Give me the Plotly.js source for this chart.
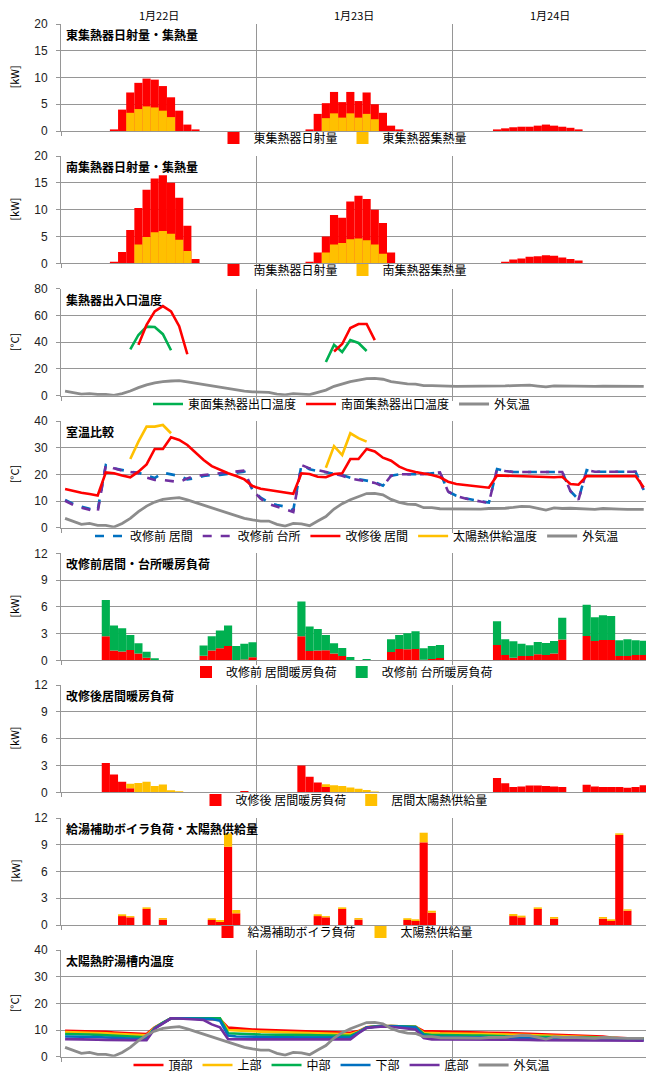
<!DOCTYPE html>
<html><head><meta charset="utf-8">
<script src="https://cdn.plot.ly/plotly-3.0.1.min.js"></script>
<style>body{margin:0;background:#fff}#chart{width:646px;height:1072px}</style>
</head><body><div id="chart"></div>
<script>
const _ = null;
// hour slots (centre of each hour over 3 days)
const hours = [];
for (let i = 0; i < 72; i++) hours.push(i + 0.5);
const dateLabels = ["1月22日", "1月23日", "1月24日"];
const dateHours = [12, 36, 60];

// Panel 1: east collector
const eastIrr = [_,_,_,_,_,_,0.3,4.0,7.2,9.0,9.8,9.6,8.4,6.3,3.8,1.2,0.3,_,_,_,_,_,_,_,
  _,_,_,_,_,_,0.3,3.2,5.2,7.3,5.4,7.3,5.6,7.2,5.0,3.4,1.0,0.3,_,_,_,_,_,_,
  _,_,_,_,_,0.3,0.5,0.7,0.8,0.8,1.0,1.2,1.0,0.8,0.6,0.3,_,_,_,_,_,_,_,_];
const eastCol = [_,_,_,_,_,_,_,_,3.4,4.1,4.6,4.4,3.8,2.6,_,_,_,_,_,_,_,_,_,_,
  _,_,_,_,_,_,_,_,2.4,3.3,2.5,3.3,2.5,3.2,2.2,_,_,_,_,_,_,_,_,_,
  _,_,_,_,_,_,_,_,_,_,_,_,_,_,_,_,_,_,_,_,_,_,_,_];
// Panel 2: south collector
const southIrr = [_,_,_,_,_,_,0.3,2.1,6.2,10.3,13.7,15.8,16.4,15.0,12.2,7.0,0.8,_,_,_,_,_,_,_,
  _,_,_,_,_,_,0.3,2.0,5.0,9.0,8.5,11.5,12.6,12.0,10.0,7.5,2.0,_,_,_,_,_,_,_,
  _,_,_,_,_,_,0.3,0.7,0.9,1.2,1.3,1.5,1.4,1.1,0.8,0.5,_,_,_,_,_,_,_,_];
const southCol = [_,_,_,_,_,_,_,_,_,3.5,4.9,5.8,6.0,5.5,4.4,2.3,_,_,_,_,_,_,_,_,
  _,_,_,_,_,_,_,_,2.0,3.5,3.8,4.5,4.6,4.3,3.5,1.8,_,_,_,_,_,_,_,_,
  _,_,_,_,_,_,_,_,_,_,_,_,_,_,_,_,_,_,_,_,_,_,_,_];
// Outdoor temperature
const outdoor = [3.5,2.5,1.25,1.6,0.9,0.9,0.25,1.6,3.5,6.0,8.1,9.6,10.6,11.0,11.25,10.4,9.4,8.4,7.5,6.4,5.25,4.25,3.5,2.9,
  2.5,2.5,1.25,0.6,1.6,1.4,0.75,2.5,4.2,7.0,9.0,10.5,11.6,12.8,12.9,12.3,10.6,9.5,8.8,8.7,7.5,7.5,7.1,7.1,
  7.0,7.0,6.9,7.0,7.2,7.2,7.3,7.6,8.0,7.9,7.2,6.6,7.4,7.2,7.3,7.2,7.0,6.9,7.2,7.2,7.0,6.9,6.9,6.9];
// Panel 3: collector outlet temps
const eastOut = [_,_,_,_,_,_,_,_,34.7,45.4,51.6,51.4,46.0,34.0,_,_,_,_,_,_,_,_,_,_,
  _,_,_,_,_,_,_,_,25.2,38.0,32.7,41.6,39.4,33.4,_,_,_,_,_,_,_,_,_,_,
  _,_,_,_,_,_,_,_,_,_,_,_,_,_,_,_,_,_,_,_,_,_,_,_];
const southOut = [_,_,_,_,_,_,_,_,_,38.0,53.0,63.0,67.0,63.0,52.0,31.0,_,_,_,_,_,_,_,_,
  _,_,_,_,_,_,_,_,_,33.0,38.6,50.6,53.6,53.6,41.6,_,_,_,_,_,_,_,_,_,
  _,_,_,_,_,_,_,_,_,_,_,_,_,_,_,_,_,_,_,_,_,_,_,_];
// Panel 4: room temperatures
const beforeLiving = [10.4,8.9,7.9,7.1,6.6,23.5,22.25,21.5,21.0,20.6,19.6,18.6,20.6,20.1,19.4,18.1,18.6,19.4,19.75,19.75,20.1,20.6,21.0,14.1,
  11.25,9.4,8.5,7.9,6.6,23.5,21.9,21.25,20.75,20.4,19.75,18.75,18.25,17.6,17.1,15.75,19.5,20.0,20.0,20.1,20.1,20.4,20.75,13.5,
  12.0,11.1,10.4,9.9,9.4,22.0,21.25,20.9,20.9,20.9,20.9,20.9,20.9,20.9,13.75,10.6,21.6,21.0,21.0,21.0,21.0,21.0,21.0,14.1];
const beforeKitchen = [10.1,8.5,7.5,6.6,5.9,23.5,22.25,21.4,20.9,20.4,18.75,17.9,17.9,17.5,17.1,18.5,19.4,19.75,20.1,20.4,20.6,20.9,21.4,14.1,
  10.9,8.9,7.9,7.0,5.9,23.5,22.25,21.6,21.0,20.2,19.5,18.4,17.9,17.3,16.8,15.5,19.5,20.0,20.0,20.1,20.1,20.4,20.75,13.5,
  11.9,11.0,10.3,9.8,9.3,22.0,21.25,20.9,20.9,20.9,20.9,20.9,20.9,20.9,13.75,10.5,21.6,21.0,21.0,21.0,21.0,21.0,21.0,14.1];
const afterLiving = [14.5,13.75,13.1,12.6,12.1,20.75,20.4,19.6,18.9,21.0,23.75,29.5,29.5,33.9,32.9,31.0,28.25,25.4,23.1,21.6,20.4,19.4,18.1,15.6,
  14.6,14.1,13.6,13.1,12.75,20.4,20.1,19.1,18.9,20.1,20.4,25.75,25.75,29.5,28.6,26.25,25.1,22.9,21.6,20.9,20.4,19.75,18.9,17.25,
  16.4,16.0,15.75,15.4,15.0,19.6,19.5,19.4,19.3,19.3,19.3,19.2,18.9,19.1,16.4,16.1,19.4,19.3,19.3,19.3,19.3,19.3,19.4,15.1];
const solarSupplyTemp = [_,_,_,_,_,_,_,_,25.75,32.25,37.9,37.9,38.5,35.4,_,_,_,_,_,_,_,_,_,_,
  _,_,_,_,_,_,_,_,22.5,30.6,27.25,35.4,33.6,32.25,_,_,_,_,_,_,_,_,_,_,
  _,_,_,_,_,_,_,_,_,_,_,_,_,_,_,_,_,_,_,_,_,_,_,_];
// Panel 5: heating load before renovation
const loadBeforeLiving = [_,_,_,_,_,2.7,1.1,1.0,1.15,0.75,0.3,_,_,_,_,_,_,0.5,1.1,1.35,1.6,_,0.1,0.35,
  _,_,_,_,_,2.7,1.05,1.1,1.12,0.75,0.49,_,_,_,_,_,0.93,1.27,1.23,1.27,0.07,0.15,0.26,_,
  _,_,_,_,_,1.72,0.6,0.3,0.49,0.49,0.67,0.6,0.75,2.32,_,_,2.73,2.17,2.28,2.28,0.49,0.49,0.6,0.6];
const loadBeforeKitchen = [_,_,_,_,_,4.05,2.8,2.6,1.7,1.15,0.65,0.22,_,_,_,_,_,1.15,1.6,2.0,2.3,1.6,1.77,1.68,
  _,_,_,_,_,3.9,2.73,2.4,1.72,1.15,0.89,0.37,_,0.15,_,_,1.42,1.57,1.8,1.98,1.28,1.45,1.46,_,
  _,_,_,_,_,2.65,1.75,1.83,1.38,1.19,1.38,1.34,1.42,2.46,_,_,3.51,2.65,2.77,2.69,1.75,1.86,1.64,1.6];
// Panel 6: heating load after renovation
const loadAfterLiving = [_,_,_,_,_,3.28,1.98,1.19,0.45,_,_,_,_,_,_,_,_,_,_,_,_,_,0.15,_,
  _,_,_,_,_,3.0,1.75,1.1,0.6,_,_,_,_,_,_,_,_,_,_,_,_,_,_,_,
  _,_,_,_,_,1.6,1.0,0.6,0.65,0.75,0.75,0.7,0.65,0.6,_,_,0.85,0.65,0.6,0.6,0.6,0.5,0.6,0.8];
const livingSolar = [_,_,_,_,_,_,_,_,0.52,1.04,1.19,0.71,0.86,0.22,0.11,0.04,_,_,_,_,_,_,_,_,
  _,_,_,_,_,_,_,_,0.3,0.8,0.7,0.55,0.4,0.25,0.1,_,_,_,_,_,_,_,_,_,
  _,_,_,_,_,_,_,_,_,_,_,_,_,_,_,_,_,_,_,_,_,_,_,_];
// Panel 7: hot water boiler load and solar supply
const boilerLoad = [_,_,_,_,_,_,_,1.0,0.86,_,1.8,_,0.6,_,_,_,_,_,0.56,0.34,8.78,1.31,_,_,
  _,_,_,_,_,_,_,1.0,0.86,_,1.8,_,0.6,_,_,_,_,_,0.56,0.45,9.27,1.38,_,_,
  _,_,_,_,_,_,_,1.0,0.86,_,1.8,_,0.71,_,_,_,_,_,0.71,0.45,10.1,1.6,_,_];
const hwSolar = [_,_,_,_,_,_,_,0.2,0.14,_,0.18,_,0.18,_,_,_,_,_,0.19,0.22,1.5,0.37,_,_,
  _,_,_,_,_,_,_,0.2,0.14,_,0.18,_,0.18,_,_,_,_,_,0.2,0.19,1.08,0.22,_,_,
  _,_,_,_,_,_,_,0.23,0.19,_,0.18,_,0.19,_,_,_,_,_,0.19,0.19,0.18,0.16,_,_];
// Panel 8: storage tank temperatures
const tankTop = [9.75,9.7,9.6,9.5,9.4,9.3,9.1,8.9,8.7,8.6,8.5,11.0,12.8,14.4,14.4,14.3,14.2,14.1,14.0,14.0,10.9,10.6,10.4,10.2,
  10.1,10.0,9.9,9.8,9.7,9.6,9.5,9.4,9.2,9.1,9.1,9.0,9.6,11.0,11.3,11.5,11.5,11.4,11.3,11.2,9.6,9.4,9.4,9.3,
  9.3,9.2,9.2,9.1,9.0,9.0,8.9,8.8,8.7,8.6,8.3,8.2,8.1,8.0,8.0,7.9,7.8,7.7,7.6,7.2,7.0,6.9,6.9,6.9];
const tankUpper = [9.25,9.2,9.1,9.0,8.9,8.8,8.6,8.4,8.2,8.1,8.0,10.9,12.8,14.4,14.4,14.4,14.3,14.3,14.3,14.3,10.0,9.8,9.6,9.5,
  9.4,9.3,9.2,9.1,9.0,8.9,8.8,8.75,8.6,8.5,8.5,8.4,9.4,11.0,11.3,11.5,11.5,11.4,11.3,11.2,9.0,8.75,8.75,8.7,
  8.7,8.6,8.6,8.5,8.5,8.4,8.4,8.3,8.2,8.1,8.0,7.9,7.8,7.8,7.7,7.6,7.5,7.5,7.4,7.1,6.9,6.8,6.8,6.8];
const tankMiddle = [8.5,8.5,8.4,8.3,8.2,8.0,7.8,7.6,7.4,7.3,7.25,10.8,12.8,14.4,14.4,14.4,14.4,14.4,14.4,14.4,8.8,8.6,8.5,8.4,
  8.3,8.3,8.2,8.2,8.1,8.1,8.1,8.0,7.9,7.9,7.9,7.8,9.2,10.9,11.3,11.5,11.5,11.4,11.3,11.2,8.5,8.1,8.1,8.0,
  8.0,8.0,7.9,7.9,7.8,7.8,7.7,7.6,7.6,7.5,7.5,7.4,7.4,7.3,7.3,7.2,7.2,7.1,7.1,7.0,6.8,6.7,6.7,6.7];
const tankLower = [7.6,7.6,7.5,7.5,7.4,7.2,7.0,6.9,6.8,6.75,6.75,10.7,12.7,14.4,14.4,14.3,14.2,14.0,14.1,13.5,7.9,7.6,7.5,7.4,
  7.3,7.3,7.3,7.3,7.3,7.3,7.3,7.3,7.25,7.25,7.25,7.2,9.0,10.9,11.2,11.4,11.4,11.3,11.2,11.0,8.0,7.5,7.5,7.4,
  7.4,7.4,7.3,7.3,7.2,7.2,7.1,7.1,7.0,6.9,6.9,6.9,6.8,6.8,6.8,6.7,6.7,6.7,6.6,6.5,6.4,6.3,6.3,6.3];
const tankBottom = [6.6,6.6,6.5,6.5,6.4,6.3,6.2,6.2,6.2,6.2,6.2,10.5,12.6,14.4,14.3,14.1,14.0,13.75,12.1,11.0,6.6,6.5,6.5,6.5,
  6.5,6.5,6.5,6.5,6.5,6.5,6.5,6.5,6.5,6.5,6.5,6.5,8.8,10.8,11.1,11.3,11.2,10.9,10.5,10.2,7.0,6.5,6.5,6.5,
  6.5,6.5,6.4,6.4,6.4,6.4,6.3,6.3,6.3,6.3,6.2,6.2,6.2,6.2,6.2,6.2,6.1,6.1,6.1,6.1,6.0,6.0,6.0,6.0];

// ---------- layout / styling ----------
const W = 646, H = 1072, L = 61;
const FONT = '"Noto Sans CJK JP", "Noto Sans", sans-serif';
const TICKFONT = '"Liberation Sans", Arial, sans-serif';
const RED = '#FF0000', GOLD = '#FFC000', GREEN = '#00B050', BLUE = '#0070C0', PURPLE = '#7030A0', GRAY = '#8C8C8C';
const GRID = '#969696';
const panelTop = [24, 156, 288.7, 421, 553.3, 685, 818, 950];
const panelBot = [131, 263.3, 395.7, 527.7, 660.3, 792.3, 925, 1056.7];
const yMax = [20, 20, 80, 40, 12, 12, 12, 40];
const yStep = [5, 5, 20, 10, 3, 3, 3, 10];
const yUnit = ['[kW]', '[kW]', '[°C]', '[°C]', '[kW]', '[kW]', '[kW]', '[°C]'];
const panelTitle = ['東集熱器日射量・集熱量', '南集熱器日射量・集熱量', '集熱器出入口温度', '室温比較',
  '改修前居間・台所暖房負荷', '改修後居間暖房負荷', '給湯補助ボイラ負荷・太陽熱供給量', '太陽熱貯湯槽内温度'];
const legendY = [138, 270, 404, 536, 672, 800, 932, 1065];
const legendX = [343, 343, 342, 357, 342, 344, 343, 342];

const ax = i => (i === 0 ? '' : String(i + 1));
const traces = [];
function bar(p, name, y, color, base) {
  const t = {type: 'bar', x: hours, y: y, name: name, width: 1, marker: {color: color, line: {width: 0}},
    xaxis: 'x' + ax(p), yaxis: 'y' + ax(p), legend: 'legend' + ax(p), hoverinfo: 'skip'};
  if (base) t.base = base.map(v => (v == null ? 0 : v));
  traces.push(t);
}
function line(p, name, y, color, dash, w) {
  traces.push({type: 'scatter', mode: 'lines', x: hours, y: y, name: name,
    line: {color: color, width: w || 2.6, dash: dash || 'solid'}, connectgaps: false,
    xaxis: 'x' + ax(p), yaxis: 'y' + ax(p), legend: 'legend' + ax(p), hoverinfo: 'skip'});
}
bar(0, '東集熱器日射量', eastIrr, RED);
bar(0, '東集熱器集熱量', eastCol, GOLD);
bar(1, '南集熱器日射量', southIrr, RED);
bar(1, '南集熱器集熱量', southCol, GOLD);
line(2, '東面集熱器出口温度', eastOut, GREEN);
line(2, '南面集熱器出口温度', southOut, RED);
line(2, '外気温', outdoor, GRAY, 'solid', 2.8);
line(3, '改修前 居間', beforeLiving, BLUE, 'dash');
line(3, '改修前 台所', beforeKitchen, PURPLE, 'dash');
line(3, '改修後 居間', afterLiving, RED);
line(3, '太陽熱供給温度', solarSupplyTemp, GOLD);
line(3, '外気温', outdoor, GRAY, 'solid', 2.8);
bar(4, '改修前 居間暖房負荷', loadBeforeLiving, RED);
bar(4, '改修前 台所暖房負荷', loadBeforeKitchen, GREEN, loadBeforeLiving);
bar(5, '改修後 居間暖房負荷', loadAfterLiving, RED);
bar(5, '居間太陽熱供給量', livingSolar, GOLD, loadAfterLiving);
bar(6, '給湯補助ボイラ負荷', boilerLoad, RED);
bar(6, '太陽熱供給量', hwSolar, GOLD, boilerLoad);
line(7, '頂部', tankTop, RED);
line(7, '上部', tankUpper, GOLD);
line(7, '中部', tankMiddle, GREEN);
line(7, '下部', tankLower, BLUE);
line(7, '底部', tankBottom, PURPLE);
line(7, '外気温', outdoor, GRAY, 'solid', 2.8);

const layout = {
  width: W, height: H, margin: {l: L, r: 0, t: 0, b: 0, pad: 0, autoexpand: false},
  paper_bgcolor: '#fff', plot_bgcolor: '#fff', barmode: 'overlay',
  font: {family: FONT, size: 12, color: '#000'},
  showlegend: true, annotations: [], hovermode: false
};
const PW = W - L;
for (let p = 0; p < 8; p++) {
  const d0 = 1 - panelBot[p] / H, d1 = 1 - panelTop[p] / H;
  layout['xaxis' + ax(p)] = {
    domain: [0, 1], anchor: 'y' + ax(p), range: [0, PW / 8.15],
    tickvals: [0, 24, 48, 72], showticklabels: false, ticks: 'outside', ticklen: 4, tickcolor: GRID,
    showgrid: true, gridcolor: GRID, gridwidth: 1, showline: true, linecolor: GRID, linewidth: 1,
    zeroline: false, fixedrange: true
  };
  layout['yaxis' + ax(p)] = {
    domain: [d0, d1], anchor: 'x' + ax(p), range: [0, yMax[p]], dtick: yStep[p], tick0: 0,
    ticks: 'outside', ticklen: 4, tickcolor: GRID, ticklabelstandoff: 6,
    tickfont: {family: TICKFONT, size: 12, color: '#222'},
    showgrid: true, gridcolor: GRID, gridwidth: 1, showline: true, linecolor: GRID, linewidth: 1,
    zeroline: false, fixedrange: true
  };
  layout['legend' + ax(p)] = {
    orientation: 'h', x: (legendX[p] - L) / PW, xanchor: 'center', y: 1 - legendY[p] / H, yanchor: 'middle',
    font: {family: FONT, size: 12, color: '#000'}, bgcolor: 'rgba(0,0,0,0)', itemwidth: 30,
    tracegroupgap: 0, traceorder: 'normal'
  };
  layout.annotations.push({
    xref: 'paper', yref: 'paper', x: 3 / PW, y: d1, xanchor: 'left', yanchor: 'top', yshift: 0,
    text: '<b>' + panelTitle[p] + '</b>', showarrow: false, font: {family: FONT, size: 12, color: '#000'}
  });
  layout.annotations.push({
    xref: 'paper', yref: 'paper', x: (14 - L) / PW, y: (d0 + d1) / 2, xanchor: 'center', yanchor: 'middle',
    text: yUnit[p], textangle: -90, showarrow: false, font: {family: FONT, size: 11, color: '#000'}
  });
}
for (let k = 0; k < dateLabels.length; k++) {
  layout.annotations.push({
    xref: 'x', yref: 'paper', x: dateHours[k], y: 1 - 15 / H, xanchor: 'center', yanchor: 'middle',
    text: dateLabels[k], showarrow: false, font: {family: FONT, size: 11, color: '#000'}
  });
}
Plotly.newPlot('chart', traces, layout, {staticPlot: true, displayModeBar: false});
</script></body></html>
